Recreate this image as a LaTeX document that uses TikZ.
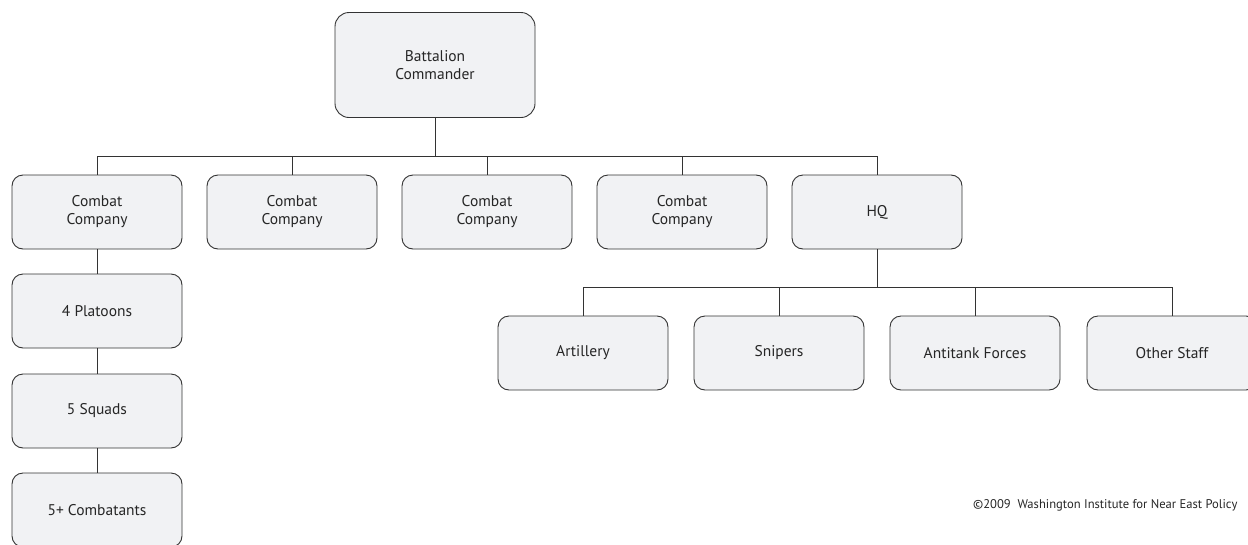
\documentclass[tikz,border=0pt]{standalone}
\usepackage{fontspec}
\setmainfont{PT Sans}
\usepackage{tikz}
\usetikzlibrary{calc}

\definecolor{boxfill}{HTML}{F1F2F4}
\definecolor{boxline}{HTML}{333333}

\tikzset{
  unit/.style={draw=boxline, fill=boxfill, rounded corners=11pt, line width=0.9pt,
    minimum width=170pt, minimum height=74pt, align=center, text=black!85,
    font=\fontsize{15.5}{18}\selectfont},
  link/.style={draw=boxline, line width=0.8pt}
}

\begin{document}
\begin{tikzpicture}[x=1pt,y=-1pt]
        \clip (0,0) rectangle (1248,544);
        \useasboundingbox (0,0) rectangle (1248,544);

        \node (cmd) at (435,65) [unit, minimum width=200pt, minimum height=105pt, rounded corners=14pt] {Battalion\\Commander};

        % companies
        \node (co1) at (97,212) [unit] {Combat\\Company};
        \node (co2) at (292,212) [unit] {Combat\\Company};
        \node (co3) at (487,212) [unit] {Combat\\Company};
        \node (co4) at (682,212) [unit] {Combat\\Company};
        \node (hq) at (877,212) [unit] {HQ};

        \node (plat) at (97,311) [unit] {4 Platoons};
        \node (squad) at (97,411) [unit] {5 Squads};
        \node (comb) at (97,510) [unit] {5+ Combatants};

        % HQ staff
        \node (art) at (583,353) [unit] {Artillery};
        \node (snip) at (779,353) [unit] {Snipers};
        \node (anti) at (975,353) [unit] {Antitank Forces};
        \node (other) at (1172,353) [unit] {Other Staff};

        \coordinate (bar) at (435,156);
        \coordinate (hqbar) at (877,287);

        \draw [link] (cmd) -- (bar);
        \draw [link] (co1 |- bar) -- (hq |- bar);
        \foreach \n in {co1,co2,co3,co4,hq}
            \draw [link] (\n |- bar) -- (\n.north);

        \draw [link] (co1) -- (plat);
        \draw [link] (plat) -- (squad);
        \draw [link] (squad) -- (comb);

        \draw [link] (hq) -- (hqbar);
        \draw [link] (art |- hqbar) -- (other |- hqbar);
        \foreach \n in {art,snip,anti,other}
            \draw [link] (\n |- hqbar) -- (\n.north);

        \node (copy) at (973,508) [anchor=base west, inner sep=0pt, text=black!85, font=\fontsize{12.6}{14}\selectfont] {©2009\ \ Washington Institute for Near East Policy};
    \end{tikzpicture}
\end{document}
